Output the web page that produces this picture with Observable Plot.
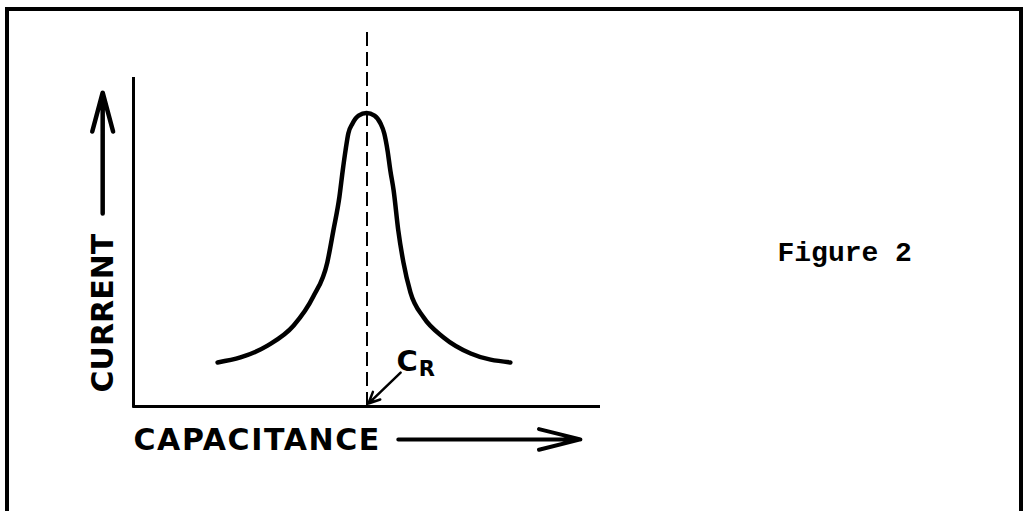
<!DOCTYPE html>
<html>
<head>
<meta charset="utf-8">
<script src="https://cdn.jsdelivr.net/npm/d3@7"></script>
<script src="https://cdn.jsdelivr.net/npm/@observablehq/plot@0.6"></script>
<style>
  html, body { margin: 0; padding: 0; background: #fff; }
  #wrap { position: relative; width: 1023px; height: 511px; overflow: hidden; }
  #frame { position: absolute; left: 5px; top: 7px; width: 1018px; height: 520px; box-sizing: border-box;
           border: 4px solid #000; border-bottom: none; pointer-events: none; }
</style>
</head>
<body>
<div id="wrap"><div id="frame"></div></div>
<script>
// Resonance curve (arbitrary units)
const capacitance = [1.80, 2.29, 2.87, 3.43, 3.85, 4.15, 4.28, 4.41, 4.48, 4.54, 4.60, 4.69, 4.82, 4.99,
                     5.16, 5.29, 5.37, 5.44, 5.50, 5.57, 5.67, 5.78, 5.93, 6.21, 6.64, 7.22, 8.07];
const current     = [1.34, 1.49, 1.85, 2.46, 3.34, 4.38, 5.35, 6.38, 7.17, 7.78, 8.30, 8.60, 8.84, 8.92,
                     8.84, 8.60, 8.30, 7.78, 7.17, 6.57, 5.35, 4.38, 3.47, 2.71, 2.10, 1.61, 1.34];
const resonance = 5.0;
const yLabel = "CURRENT";
const xLabel = "CAPACITANCE";
const resonanceSymbol = "C";
const resonanceSubscript = "R";
const figureTitle = "Figure 2";

const curve = capacitance.map((c, i) => ({c, i: current[i]}));
const sans = "DejaVu Sans";

const plot = Plot.plot({
  width: 1023, height: 511,
  marginLeft: 133, marginRight: 423, marginTop: 77, marginBottom: 105,
  style: {background: "transparent", color: "#000"},
  x: {domain: [0, 10], axis: null},
  y: {domain: [0, 10], axis: null},
  marks: [
    // axes
    Plot.ruleX([0], {y1: -0.05, y2: 10, strokeWidth: 3, stroke: "#000"}),
    Plot.ruleY([0], {x1: 0, x2: 10, strokeWidth: 3, stroke: "#000"}),
    // resonance dashed line
    Plot.ruleX([resonance], {y1: 0, y2: 11.37, stroke: "#000", strokeWidth: 2, strokeDasharray: "14,6"}),
    // curve
    Plot.line(curve, {x: "c", y: "i", curve: "monotone-x", stroke: "#000", strokeWidth: 4.5}),
    // axis labels
    Plot.text([yLabel], {x: -0.65, y: 2.84, text: d => d, rotate: -90, fontFamily: sans, fontWeight: "bold", fontSize: 30, lineAnchor: "middle", textAnchor: "middle", fill: "#000"}),
    Plot.arrow([yLabel], {x1: -0.66, y1: 5.87, x2: -0.66, y2: 9.54, stroke: "#000", strokeWidth: 4.5, headAngle: 30, headLength: 13.5}),
    Plot.text([xLabel], {x: 0, y: -1.03, text: d => d, fontFamily: sans, fontWeight: "bold", fontSize: 30, lineAnchor: "middle", textAnchor: "start", fill: "#000"}),
    Plot.arrow([xLabel], {x1: 5.67, y1: -1.0, x2: 9.57, y2: -1.0, stroke: "#000", strokeWidth: 4, headAngle: 28, headLength: 16}),
    // resonance annotation
    Plot.text([resonanceSymbol], {x: 5.63, y: 1.37, text: d => d, fontFamily: sans, fontWeight: "bold", fontSize: 29, lineAnchor: "middle", textAnchor: "start", fill: "#000"}),
    Plot.text([resonanceSubscript], {x: 6.11, y: 1.12, text: d => d, fontFamily: sans, fontWeight: "bold", fontSize: 21, lineAnchor: "middle", textAnchor: "start", fill: "#000"}),
    Plot.arrow([resonance], {x1: 5.72, y1: 1.03, x2: 5.03, y2: 0.09, stroke: "#000", strokeWidth: 2.5, headAngle: 50, headLength: 7.5}),
    // figure title
    Plot.text([figureTitle], {x: 13.79, y: 4.71, text: d => d, fontFamily: "Liberation Mono", fontWeight: "bold", fontSize: 28, lineAnchor: "middle", textAnchor: "start", fill: "#000"})
  ]
});

plot.querySelectorAll("text").forEach(t => {
  if (t.textContent === xLabel) t.setAttribute("letter-spacing", "1.6");
});
plot.style.position = "absolute";
plot.style.left = "0";
plot.style.top = "0";
document.getElementById("wrap").prepend(plot);
</script>
</body>
</html>
